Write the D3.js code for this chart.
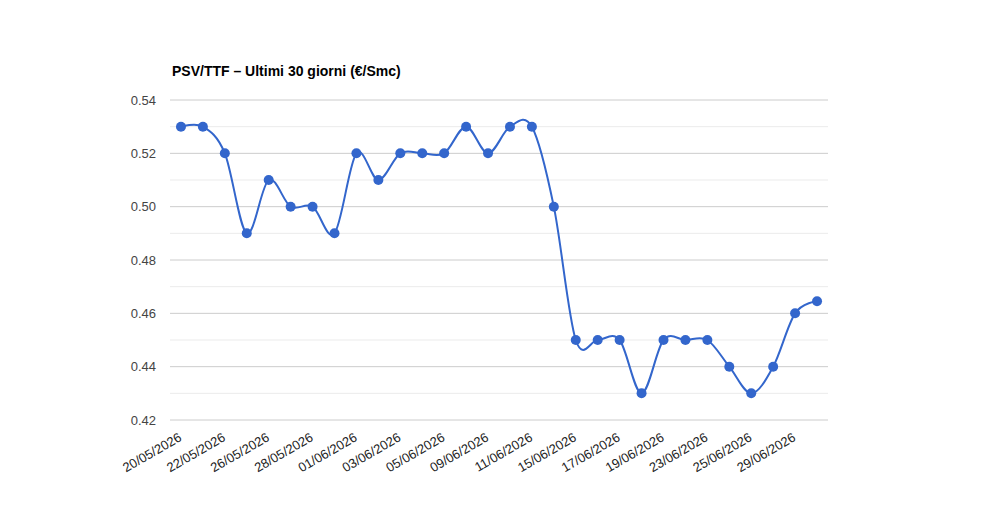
<!DOCTYPE html>
<html>
<head>
<meta charset="utf-8">
<script src="https://cdn.jsdelivr.net/npm/d3@7"></script>
<style>
  body { margin: 0; background: #fff; }
  svg { font-family: "Liberation Sans", Arial, sans-serif; }
</style>
</head>
<body>
<svg width="1000" height="520"></svg>
<script>
// dati
const dates = [
  '20/05/2026', '21/05/2026', '22/05/2026', '25/05/2026', '26/05/2026',
  '27/05/2026', '28/05/2026', '29/05/2026', '01/06/2026', '02/06/2026',
  '03/06/2026', '04/06/2026', '05/06/2026', '08/06/2026', '09/06/2026',
  '10/06/2026', '11/06/2026', '12/06/2026', '15/06/2026', '16/06/2026',
  '17/06/2026', '18/06/2026', '19/06/2026', '22/06/2026', '23/06/2026',
  '24/06/2026', '25/06/2026', '26/06/2026', '29/06/2026', '30/06/2026'
];
const values = [
  0.53, 0.53, 0.52, 0.49, 0.51, 0.50, 0.50, 0.49, 0.52, 0.51,
  0.52, 0.52, 0.52, 0.53, 0.52, 0.53, 0.53, 0.50, 0.45, 0.45,
  0.45, 0.43, 0.45, 0.45, 0.45, 0.44, 0.43, 0.44, 0.46, 0.4645
];
const yTicks = [0.42, 0.44, 0.46, 0.48, 0.50, 0.52, 0.54];
const yMinorTicks = [0.43, 0.45, 0.47, 0.49, 0.51, 0.53];
const title = 'PSV/TTF – Ultimi 30 giorni (€/Smc)';

const svg = d3.select('svg');
const plotLeft = 170, plotRight = 828, plotTop = 100, plotBottom = 420;
const blue = '#3366cc';

const data = dates.map((d, i) => ({ date: d, value: values[i] }));

const xScale = d3.scalePoint()
  .domain(dates)
  .range([plotLeft, plotRight])
  .padding(0.5);
const yScale = d3.scaleLinear()
  .domain([0.42, 0.54])
  .range([plotBottom, plotTop]);

// griglia
svg.append('g')
  .selectAll('line')
  .data(yMinorTicks)
  .join('line')
  .attr('x1', plotLeft).attr('x2', plotRight)
  .attr('y1', d => yScale(d)).attr('y2', d => yScale(d))
  .attr('stroke', '#ebebeb');
svg.append('g')
  .selectAll('line')
  .data(yTicks)
  .join('line')
  .attr('x1', plotLeft).attr('x2', plotRight)
  .attr('y1', d => yScale(d)).attr('y2', d => yScale(d))
  .attr('stroke', '#cccccc');

// asse y
const axisy = d3.axisLeft(yScale)
  .tickValues(yTicks)
  .tickSize(0)
  .tickPadding(14)
  .tickFormat(d3.format('.2f'));
const y = svg.append('g')
  .attr('transform', 'translate(' + plotLeft + ',0)')
  .call(axisy);
y.select('.domain').remove();
y.selectAll('text')
  .attr('font-size', 13)
  .attr('font-family', '"Liberation Sans", Arial, sans-serif')
  .attr('fill', '#444');

// asse x
const axisx = d3.axisBottom(xScale)
  .tickValues(dates.filter((d, i) => i % 2 === 0))
  .tickSize(0);
const x = svg.append('g')
  .attr('transform', 'translate(0,' + plotBottom + ')')
  .call(axisx);
x.select('.domain').remove();
x.selectAll('text')
  .attr('font-size', 13)
  .attr('font-family', '"Liberation Sans", Arial, sans-serif')
  .attr('fill', '#222')
  .attr('text-anchor', 'end')
  .attr('dy', null)
  .attr('y', 0)
  .attr('transform', 'translate(1,20) rotate(-30)');

// linea
const line1 = d3.line()
  .x(d => xScale(d.date))
  .y(d => yScale(d.value))
  .curve(d3.curveCatmullRom.alpha(0));
svg.append('path')
  .datum(data)
  .attr('fill', 'none')
  .attr('stroke', blue)
  .attr('stroke-width', 2)
  .attr('d', line1);

// punti
svg.append('g')
  .selectAll('circle')
  .data(data)
  .join('circle')
  .attr('cx', d => xScale(d.date))
  .attr('cy', d => yScale(d.value))
  .attr('r', 5)
  .attr('fill', blue);

// titolo
svg.append('text')
  .attr('x', plotLeft + 2)
  .attr('y', 76)
  .attr('font-size', 14)
  .attr('font-weight', 'bold')
  .attr('fill', '#000')
  .text(title);
</script>
</body>
</html>
